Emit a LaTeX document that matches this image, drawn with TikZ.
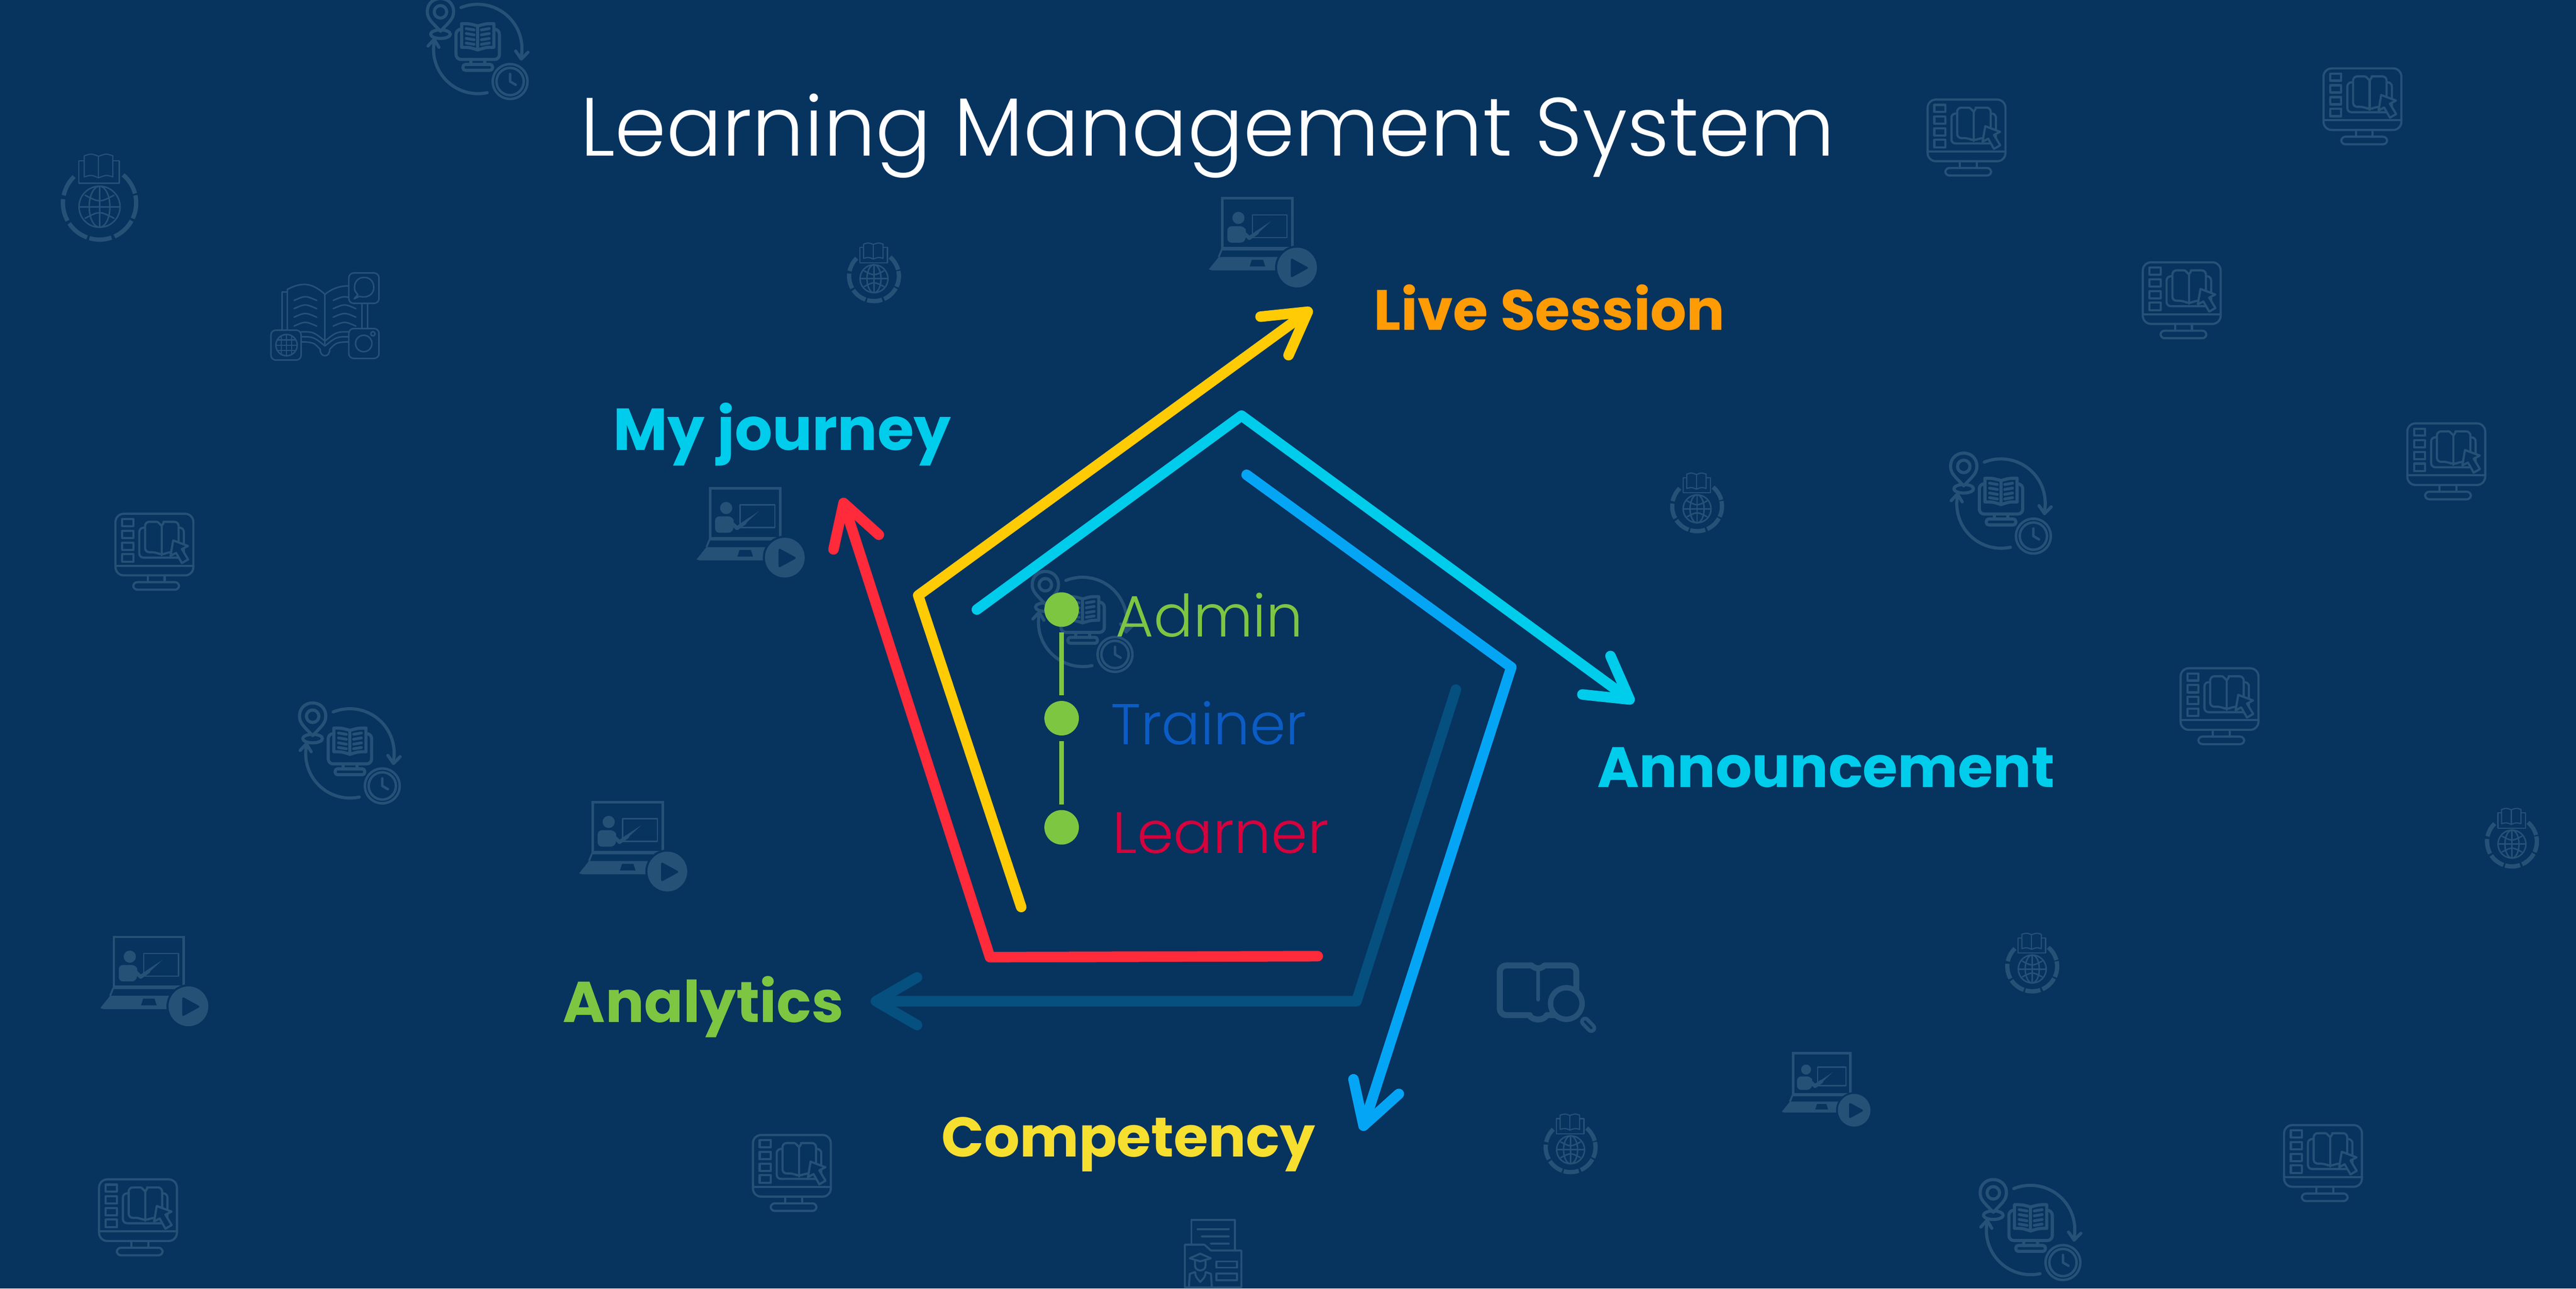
\documentclass[tikz,border=0pt]{standalone}
\usepackage{fontspec}
\setmainfont{Poppins}
\newfontfamily\lightfont{Poppins Light}
\usetikzlibrary{arrows.meta}
\definecolor{bgc}{HTML}{07335F}
\definecolor{iconc}{HTML}{265177}
\definecolor{yellowc}{HTML}{FFCB05}
\definecolor{cyanc}{HTML}{00CCEB}
\definecolor{skyc}{HTML}{05A5F5}
\definecolor{tealc}{HTML}{05507F}
\definecolor{redc}{HTML}{FF2A3A}
\definecolor{greenc}{HTML}{7DC642}
\definecolor{trainerc}{HTML}{0B5CC4}
\definecolor{learnerc}{HTML}{D5023C}
\definecolor{orangec}{HTML}{FF9B05}
\definecolor{compc}{HTML}{F7DF30}
\tikzset{
  ico/.style={draw=iconc,line width=#1,line join=round,line cap=round},
  ico/.default=1.3pt,
  path line/.style={line width=6.4pt,line join=round,line cap=round},
  barb/.style={-{Straight Barb[round,length=25pt,width=29pt]}},
  head/.style={anchor=base west,inner sep=0pt,font=\fontsize{#1}{40}\selectfont\bfseries},
  head/.default=34.6,
  role/.style={anchor=base west,inner sep=0pt,font=\lightfont\fontsize{#1}{42}\selectfont},
  role/.default=35,
  dot/.style={circle,fill=greenc,minimum size=21pt,inner sep=0pt,outer sep=3.5pt},
  monitoricon/.pic={
    \draw[ico,rounded corners=5pt] (-23.7,-23.4) rectangle (23.7,14.1);
    \draw[ico] (-23.7,8.2) -- (23.7,8.2) (-4,14.1) -- (-4,18.2) (6.2,14.1) -- (6.2,18.2);
    \draw[ico,rounded corners=2.5pt] (-12.9,18.2) rectangle (15,22.8);
    \foreach \ya/\yb in {-20.2/-15.9,-13.1/-8.7,-5.9/-1.5,1.1/5.7}
      \draw[ico] (-19.6,\ya) rectangle (-12.9,\yb);
    \draw[ico,rounded corners=2.5pt] (-5.7,-14.9) -- (-9.2,-14.9) -- (-9.2,3.3) -- (17.9,3.3) -- (17.9,-14.9) -- (14.7,-14.9);
    \draw[ico,rounded corners=2.5pt,fill=bgc] (4.4,-16) .. controls (2,-18.5) .. (-1,-18.5) -- (-5.7,-18.5) -- (-5.7,0) -- (1,0) -- (4.4,1.8) -- (8,0) -- (14.7,0) -- (14.7,-18.5) -- (8,-18.5) .. controls (6,-18.5) .. (4.4,-16);
    \draw[ico] (4.4,-16) -- (4.4,1.8);
    \draw[ico,fill=bgc] (11.4,-7.2) -- (20.4,-3.8) -- (16.7,-1.9) -- (20.5,4.4) -- (16.7,6.6) -- (13.2,.4) -- (9.8,2.2) -- cycle;
  },
  laptopicon/.pic={
    \draw[ico=1.5pt,line cap=butt,line join=miter] (-22.7,-26.9) rectangle (19.9,3.4);
    \fill[iconc] (-13,-14.9) circle[radius=3.7pt];
    \fill[iconc,rounded corners=2.5pt] (-19.7,.15) -- (-19.7,-9.8) -- (-9.2,-9.8) -- (-8,-6) -- (-9.2,.15) -- cycle;
    \draw[ico=.8pt,line cap=butt] (-4.5,-16.8) rectangle (16.6,-3);
    \draw[ico=2.3pt] (-8.7,-4.9) -- (-6.4,-2.6) -- (-1.6,-6);
    \fill[iconc] (-1.8,-7.2) -- (7,-13) -- (-.8,-5.8) -- cycle;
    \fill[iconc,even odd rule] (-31,16.4) -- (-25,8.9) -- (12,8.9) -- (12,17) -- (-29,17) -- cycle
      (-4.9,10.6) -- (2.1,10.6) -- (3.4,14.7) -- (-6.2,14.7) -- cycle;
    \draw[ico=1.1pt,line cap=butt] (-25,8.9) -- (-23.1,4.3) -- (15,4.3);
    \fill[bgc] (22.7,15.3) circle[radius=13.4pt];
    \fill[iconc] (22.7,15.3) circle[radius=12.1pt];
    \fill[bgc,rounded corners=1.2pt] (18.9,9.4) -- (30,15.5) -- (18.9,21.6) -- cycle;
  },
  cycleicon/.pic={
    \draw[ico=1.9pt,rounded corners=3pt] (-13.2,-10.6) rectangle (13.2,7.8);
    \draw[ico=1.9pt] (-4.2,7.8) -- (-4.2,10.8) (4.2,7.8) -- (4.2,10.8);
    \draw[ico=1.9pt,rounded corners=1.5pt] (-9,10.8) rectangle (9,14.4);
    \draw[ico=1.9pt,fill=bgc] (-9.8,-14) .. controls (-5,-14) .. (0,-12.6) .. controls (5,-14) .. (9.8,-14) -- (9.8,.4) .. controls (5,.4) .. (0,2) .. controls (-5,.4) .. (-9.8,.4) -- cycle;
    \draw[ico=1.9pt] (0,-12.6) -- (0,2);
    \foreach \yy in {-11,-8,-5,-2.2} {
      \draw[ico=1.7pt] (-7,\yy) -- (-2.2,\yy+.8);
      \draw[ico=1.7pt] (2.2,\yy+.8) -- (7,\yy);
    }
    \draw[ico=1.9pt] (-22.7,-7.6) ellipse[x radius=6pt,y radius=2.6pt];
    \draw[ico=1.9pt,fill=bgc] (-22.7,-9.4) .. controls (-28,-15) and (-30.7,-17) .. (-30.7,-21.2) .. controls (-30.7,-32) and (-14.7,-32) .. (-14.7,-21.2) .. controls (-14.7,-17) and (-17.4,-15) .. cycle;
    \draw[ico=1.9pt] (-22.7,-21.2) circle[radius=3.8pt];
    \draw[ico=1.9pt] (-10.2,-23.8) arc[start angle=112,end angle=-9,radius=27pt];
    \draw[ico=1.9pt] (23.1,2.65) -- (26.5,7.56) -- (30.6,3.4);
    \draw[ico=1.9pt] (5.7,28) arc[start angle=-78,end angle=-192,radius=27pt];
    \draw[ico=1.9pt] (-30.3,-.4) -- (-26.5,-4.5) -- (-23.6,.4);
    \draw[ico=1.5pt,fill=bgc] (19.7,21.2) circle[radius=10.6pt];
    \draw[ico=1.5pt] (19.7,21.2) circle[radius=8.3pt];
    \draw[ico=1.5pt] (19.7,16.6) -- (19.7,21.2) -- (23.1,23.2);
  },
  globeicon/.pic={
    \foreach \aa/\ab in {50/15,12/-25,-29/-66,-71/-106,-110/-146,-151/-186,168/134}
      \draw[draw=iconc,line width=2.6pt] ([shift={(\aa:22.3pt)}]0,-2.3) arc[start angle=\aa,end angle=\ab,radius=22.3pt];
    \draw[ico=.9pt] (0,0) circle[radius=12.5pt];
    \draw[ico=.9pt] (0,0) ellipse[x radius=6.3pt,y radius=12.5pt];
    \draw[ico=.9pt] (0,-12.5) -- (0,12.5) (-12.5,0) -- (12.5,0);
    \draw[ico=.9pt] (-8.8,-7) .. controls (0,-2.5) .. (8.8,-7) (-8.8,7) .. controls (0,2.5) .. (8.8,7);
    \draw[ico=.7pt,line cap=butt] (-9.3,-27.9) -- (-12.6,-27.9) -- (-12.6,-14.3) -- (12,-14.3) -- (12,-27.9) -- (8.1,-27.9);
    \draw[ico=.7pt,fill=bgc] (-.6,-30.7) .. controls (-5,-32.4) .. (-9.3,-31) -- (-9.3,-18.2) .. controls (-5,-19.4) .. (-.6,-17.6) .. controls (4,-19.4) .. (8.1,-18.2) -- (8.1,-31) .. controls (4,-32.4) .. cycle;
    \draw[ico=.7pt] (-.6,-30.7) -- (-.6,-17.6);
  },
  openbookicon/.pic={
    \draw[ico=.9pt] (-22.9,-15.2) -- (-26,-15.2) -- (-26,8.1);
    \draw[ico=.9pt] (-22.9,8.1) -- (-22.9,-16.7) .. controls (-13,-22) and (-7,-20) .. (0,-13.7) .. controls (4,-17) and (9,-19) .. (14.5,-18.8);
    \draw[ico=.9pt] (0,-13.7) -- (0,17);
    \foreach \yy in {-10,-5,.2,5.6} {
      \draw[ico=.9pt] (-18.8,\yy) .. controls (-12,\yy-3) .. (-5,\yy);
      \draw[ico=.9pt] (5,\yy) .. controls (12,\yy-3) .. (18.8,\yy);
    }
    \draw[ico=.9pt] (-14.5,9.1) .. controls (-7,9.1) .. (0,14.7) .. controls (7,9.1) .. (14.5,9.1);
    \draw[ico=.9pt] (-14.5,12.1) .. controls (-7,12.1) .. (0,17.7) .. controls (7,12.1) .. (14.5,12.1);
    \draw[ico=.9pt] (-14.5,15.2) .. controls (-7,15.5) .. (-2.9,19.7) .. controls (-3,25) and (3,25) .. (2.9,19.7) .. controls (7,15.5) .. (14.5,15.2);
    \draw[ico=.9pt,fill=bgc,rounded corners=3pt] (14.5,-26.7) rectangle (32.9,-8.2);
    \draw[ico=.9pt] (22.4,-8.2) -- (22.4,7.1) (26,-8.2) -- (26,7.1);
    \draw[ico=.9pt] (20,-13.5) -- (17.8,-11) -- (21,-12.5) .. controls (26,-11) and (30,-14) .. (29.7,-18.1) .. controls (29.7,-26) and (18,-26) .. (18,-18.1) .. controls (18,-16) .. cycle;
    \draw[ico=.9pt,fill=bgc,rounded corners=3pt] (14.5,7.1) rectangle (32.9,25.3);
    \draw[ico=.9pt] (23.6,16.2) circle[radius=5pt] (29.2,10.3) circle[radius=1.3pt];
    \draw[ico=.9pt,fill=bgc,rounded corners=3pt] (-32.9,8.1) rectangle (-14.5,26.3);
    \draw[ico=.9pt] (-23.4,17.2) circle[radius=6.5pt];
    \draw[ico=.7pt] (-23.4,10.7) -- (-23.4,23.7) (-26.6,11.6) -- (-26.6,22.8) (-20.2,11.6) -- (-20.2,22.8);
    \draw[ico=.7pt] (-29.9,17.2) -- (-16.9,17.2) (-29,14) -- (-17.8,14) (-29,20.4) -- (-17.8,20.4);
  },
  lensbookicon/.pic={
    \draw[ico=3.6pt,rounded corners=4pt] (-5,15) -- (-23.3,15) -- (-23.3,-15.3) -- (-8,-15.3) .. controls (-4,-15.3) .. (0,-12) .. controls (4,-15.3) .. (8,-15.3) -- (23.3,-15.3) -- (23.3,5);
    \draw[ico=3.6pt] (-5.3,15) .. controls (-3.5,18.5) and (3.5,18.5) .. (5.3,15) -- (12,15);
    \draw[ico=2.2pt] (0,-12) -- (0,5.6);
    \draw[ico=3.3pt,fill=bgc] (17.2,7.9) circle[radius=9.6pt];
    \draw[iconc,line width=6pt,line cap=round] (28.6,18.9) -- (32.4,22.8);
    \draw[bgc,line width=1.5pt,line cap=round] (28.6,18.9) -- (32.4,22.8);
  },
  foldericon/.pic={
    \draw[ico=1.2pt] (-13.2,-5.7) -- (-13.2,-20.8) -- (13.2,-20.8) -- (13.2,-2.1);
    \draw[ico=1.2pt] (-9.5,-15.1) -- (9.5,-15.1) (-6.8,-10.7) -- (9.5,-10.7) (-1.3,-6.4) -- (9.5,-6.4);
    \draw[ico=1.2pt] (-17.2,20.4) -- (-17.2,-5.7) -- (-5.3,-5.7) -- (-1.3,-2.1) -- (17.2,-2.1) -- (17.2,20.4) -- cycle;
    \draw[ico=1.2pt] (2,4.5) rectangle (14.6,8.3) (2,12) rectangle (14.6,15.9);
    \draw[ico=1.2pt] (-14.2,2.6) -- (-7.8,-.2) -- (-1.4,2.6) -- (-7.8,4.5) -- cycle;
    \draw[ico=1.2pt] (-11,4) -- (-11,7) .. controls (-11,11) and (-4.6,11) .. (-4.6,7) -- (-4.6,4);
    \draw[ico=1.2pt] (-14.7,19.7) -- (-14.2,12.1) -- (-11,11) .. controls (-10.5,14) .. (-7.8,17) .. controls (-5,14) .. (-4.5,11) -- (-1.3,12.1) -- (-.8,19.7);
  },
}
\begin{document}
\begin{tikzpicture}[x=1pt,y=-1pt]
    \useasboundingbox (0,0) rectangle (1568,784);
    \fill[bgc] (0,0) rectangle (1568,784);

    % faint icons behind
    \foreach \px/\py in {1197/84,94/336,1328/183,1438/65,1489/281,1351/430,482/714,84/741,1414/708}
      \pic at (\px,\py) {monitoricon};
    \foreach \px/\py in {766.8/147.5,455/324,383.5/515,92/597}
      \pic at (\px,\py) {laptopicon};
    \pic[scale=.82] at (1110,663) {laptopicon};
    \foreach \px/\py in {290.8/28.4,213/457,659/377,1218/305,1236/747}
      \pic at (\px,\py) {cycleicon};
    \pic at (60.6,125.8) {globeicon};
    \foreach \px/\py in {532/169.6,1033/309.6,1529/513.6,1237/589.6,956/699.6}
      \pic[scale=.68] at (\px,\py) {globeicon};
    \pic at (197.8,192.8) {openbookicon};
    \pic at (936.2,602.7) {lensbookicon};
    \pic at (738.4,763) {foldericon};

    \coordinate (yellowstart) at (621.6,551.9);
    \coordinate (yellowbend) at (558.9,362.3);
    \coordinate (yellowtip) at (798.6,187.8);
    \coordinate (cyanstart) at (594.6,370.9);
    \coordinate (cyanbend) at (755.7,252.9);
    \coordinate (cyantip) at (994.5,427.5);
    \coordinate (skystart) at (758.8,288.9);
    \coordinate (skybend) at (919.9,406);
    \coordinate (skytip) at (829,688);
    \coordinate (tealstart) at (886.2,419.6);
    \coordinate (tealbend) at (825.7,609.2);
    \coordinate (tealtip) at (530,609.2);
    \coordinate (redstart) at (802.1,581.8);
    \coordinate (redbend) at (602.6,582.4);
    \coordinate (redtip) at (512.5,303);

    \draw[path line,barb,tealc] (tealstart) -- (tealbend) -- (tealtip);
    \draw[path line,barb,skyc] (skystart) -- (skybend) -- (skytip);
    \draw[path line,barb,cyanc] (cyanstart) -- (cyanbend) -- (cyantip);
    \draw[path line,barb,redc] (redstart) -- (redbend) -- (redtip);
    \draw[path line,barb,yellowc] (yellowstart) -- (yellowbend) -- (yellowtip);

    \node[dot] (admin) at (646.2,370.9) {};
    \node[dot] (trainer) at (646.2,437) {};
    \node[dot] (learner) at (646.2,503.4) {};
    \draw[greenc,line width=3pt] (admin) -- (trainer);
    \draw[greenc,line width=3pt] (trainer) -- (learner);

    \node[role=35.5,text=greenc] (adminlabel) at (679,387.6) {Admin};
    \node[role,text=trainerc] (trainerlabel) at (676,452.9) {Trainer};
    \node[role=35.6,text=learnerc] (learnerlabel) at (677,519.1) {Learner};

    \node[anchor=base west,inner sep=0pt,text=white,font=\lightfont\fontsize{50.3}{60}\selectfont] (title) at (353,95) {Learning Management System};
    \node[head,text=orangec] (livesession) at (836,201) {Live Session};
    \node[head=36,text=cyanc] (myjourney) at (373,274) {My journey};
    \node[head,text=cyanc] (announcement) at (972,479) {Announcement};
    \node[head=35,text=greenc] (analytics) at (342.5,622) {Analytics};
    \node[head=34,text=compc] (competency) at (573,704) {Competency};
\end{tikzpicture}
\end{document}
